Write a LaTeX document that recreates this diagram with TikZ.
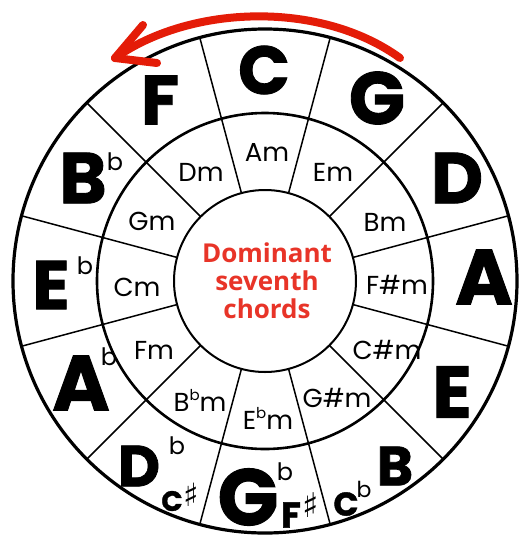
\documentclass[tikz,border=0pt]{standalone}
\usepackage{fontspec}
\setmainfont{Poppins}
\newfontfamily\heavy{Poppins}[BoldFeatures={FakeBold=1.2}]
\newfontfamily\redfont{Open Sans}
\newfontfamily\symfont{DejaVu Sans}
\definecolor{arrowred}{RGB}{228,28,8}
\definecolor{textred}{RGB}{232,52,40}
\newcommand\myflat{\raisebox{0.42em}{\fontsize{15}{15}\selectfont b}}
\begin{document}
\begin{tikzpicture}[x=1pt,y=-1pt,
  bigl/.style={font=\heavy\bfseries\fontsize{#1}{#1}\selectfont, inner sep=0pt},
  supb/.style={font=\fontsize{#1}{#1}\selectfont, inner sep=0pt},
  minor/.style={font=\fontsize{26}{26}\selectfont, inner sep=0pt},
  sharp/.style={font=\symfont\fontsize{#1}{#1}\selectfont, inner sep=0pt},
  spoke/.style={line width=1.5pt},
  redarrow/.style={draw=arrowred, line width=8pt, line cap=round, line join=round}]
\useasboundingbox (0,0) rectangle (520,539);
\fill[white] (0,0) rectangle (520,539);
\coordinate (O) at (265,281);
% spokes
\foreach \a in {15,45,...,345}
  \draw[spoke] ([shift={(\a:91)}]O) -- ([shift={(\a:252)}]O);
% circles
\draw[line width=3.2pt] (O) circle[radius=252];
\draw[line width=2.6pt] (O) circle[radius=168];
\draw[line width=2pt] (O) circle[radius=91];
% outer ring
\node[bigl=68] (nC) at (264,70) {C};
\node[bigl=74] (nG) at (377,98) {G};
\node[bigl=72] (nD) at (457,178) {D};
\node[bigl=78] (nA) at (484,277) {A};
\node[bigl=73] (nE) at (452,392) {E};
\node[bigl=55] (nB) at (395,466) {B};
\node[bigl=33] (nCbC) at (346,504) {C};
\node[supb=22] (nCbb) at (364,489) {b};
\node[bigl=80] (nGb) at (248,497) {G};
\node[supb=24] (nGbb) at (285,472) {b};
\node[bigl=36] (nFs) at (291,515) {F};
\node[sharp=34] (nFss) at (311,505) {♯};
\node[bigl=58] (nDb) at (139,466) {D};
\node[supb=24] (nDbb) at (177,446) {b};
\node[bigl=28] (nCs) at (172,501) {C};
\node[sharp=32] (nCss) at (191,495) {♯};
\node[bigl=78] (nAb) at (81,383) {A};
\node[supb=24] (nAbb) at (109,357) {b};
\node[bigl=69] (nEb) at (51,285) {E};
\node[supb=24] (nEbb) at (85,266) {b};
\node[bigl=72] (nBb) at (83,178) {B};
\node[supb=24] (nBbb) at (115,162) {b};
\node[bigl=70] (nF) at (160,100) {F};
% inner ring
\node[minor] (mA) at (267,152) {Am};
\node[minor] (mE) at (333,172) {Em};
\node[minor] (mB) at (385,222) {Bm};
\node[minor] (mFs) at (397,285) {F\#m};
\node[minor] (mCs) at (387,350) {C\#m};
\node[minor] (mGs) at (337,398) {G\#m};
\node[minor] (mEb) at (268,418) {E\myflat m};
\node[minor] (mBb) at (200,400) {B\myflat m};
\node[minor] (mF) at (154,350) {Fm};
\node[minor] (mC) at (137,287) {Cm};
\node[minor] (mG) at (152,221) {Gm};
\node[minor] (mD) at (201,172) {Dm};
% centre
\node[font=\redfont\bfseries\fontsize{26}{28}\selectfont, text=textred, align=center, inner sep=0pt] (title) at (267,281) {Dominant\\seventh\\chords};
% red arrow
\coordinate (arS) at (400,58);
\coordinate (arT) at (115,58);
\coordinate (arU) at (143,25);
\coordinate (arL) at (157,63);
\draw[redarrow] (arS) .. controls (320,0) and (190,5) .. (arT);
\draw[redarrow] (arU) -- (arT) -- (arL);
\end{tikzpicture}
\end{document}
